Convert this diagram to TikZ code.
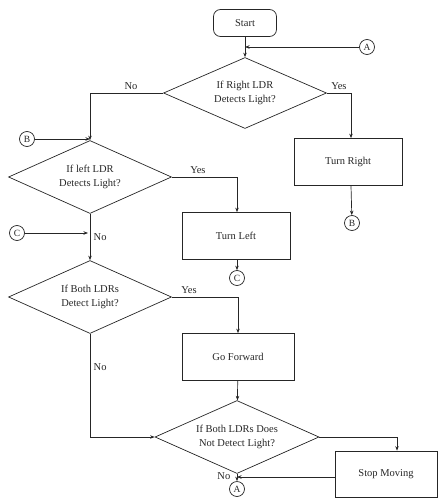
\documentclass[tikz,border=0pt]{standalone}
\usepackage{fontspec}
\setmainfont{Liberation Serif}
\usetikzlibrary{shapes.geometric, arrows.meta, calc}

\begin{document}
\begin{tikzpicture}[
    x=1pt, y=-1pt,
    >={Stealth[length=4.5pt, width=3.5pt]},
    line width=0.7pt,
    color=black!85,
    font=\fontsize{10.5}{14}\selectfont,
    terminal/.style={rectangle, rounded corners=7pt, draw, minimum width=63pt, minimum height=27pt},
    decision/.style={diamond, aspect=2.3, draw, inner sep=0pt, align=center, minimum width=163pt, minimum height=73pt},
    process/.style={rectangle, draw, minimum width=108pt, minimum height=47pt},
    connector/.style={circle, draw, inner sep=0.5pt, minimum size=15pt, font=\fontsize{9.5}{10}\selectfont}
]

    \useasboundingbox (0,0) rectangle (438,498);

    % Main blocks
    \node[terminal] (start) at (245,23) {Start};
    \node[decision, minimum height=71pt] (rldr) at (245,93) {If Right LDR\\Detects Light?};
    \node[process] (right) at (348,162) {Turn Right};
    \node[decision] (lldr) at (90,177) {If left LDR\\Detects Light?};
    \node[process] (left) at (236,236) {Turn Left};
    \node[decision] (both) at (90,297) {If Both LDRs\\Detect Light?};
    \node[process, minimum width=112pt] (fwd) at (238,357) {Go Forward};
    \node[decision, minimum width=164pt] (none) at (237,437) {If Both LDRs Does\\Not Detect Light?};
    \node[process, minimum width=102pt, minimum height=46pt] (stop) at (386,474) {Stop Moving};

    % Off-page connectors
    \foreach \name/\txt/\x/\y in {inA/A/367/47, outB/B/352/223, inB/B/27/139,
                                  outC/C/237/278, inC/C/17/233, outA/A/237/489} {
        \node[connector] (\name) at (\x,\y) {\txt};
    }

    % Flow
    \draw[->] (start) -- (rldr);
    \draw[->] (inA) -- (inA -| start);
    \draw[->] (rldr.west) -| node[pos=0.22, above] {No} (lldr.north);
    \draw[->] (rldr.east) -| node[pos=0.25, above] {Yes} ([xshift=3pt]right.north);
    \draw[->] ([xshift=3pt]right.south) -- (outB);
    \draw[->] (inB) -- (inB -| lldr);

    \draw[->] (lldr.east) -| node[pos=0.2, above] {Yes} ([xshift=1pt]left.north);
    \draw[->] ([xshift=1pt]left.south) -- (outC);
    \draw[->] (lldr) -- node[right] {No} (both);
    \draw[->] (inC) -- ([xshift=-2pt]inC -| lldr);

    \draw[->] (both.east) -| node[pos=0.13, above] {Yes} (fwd.north);
    \draw[->] (both.south) |- node[pos=0.16, right] {No} (none.west);
    \draw[->] (fwd) -- (none);

    \draw[->] (none.east) -| ([xshift=11pt]stop.north);
    \draw[->] (none.south) -- node[left, xshift=-3pt, yshift=1pt] {No} (outA);
    \draw[->] ([yshift=-3pt]stop.west) -- ([yshift=-3pt]stop.west -| none.south);

\end{tikzpicture}
\end{document}
